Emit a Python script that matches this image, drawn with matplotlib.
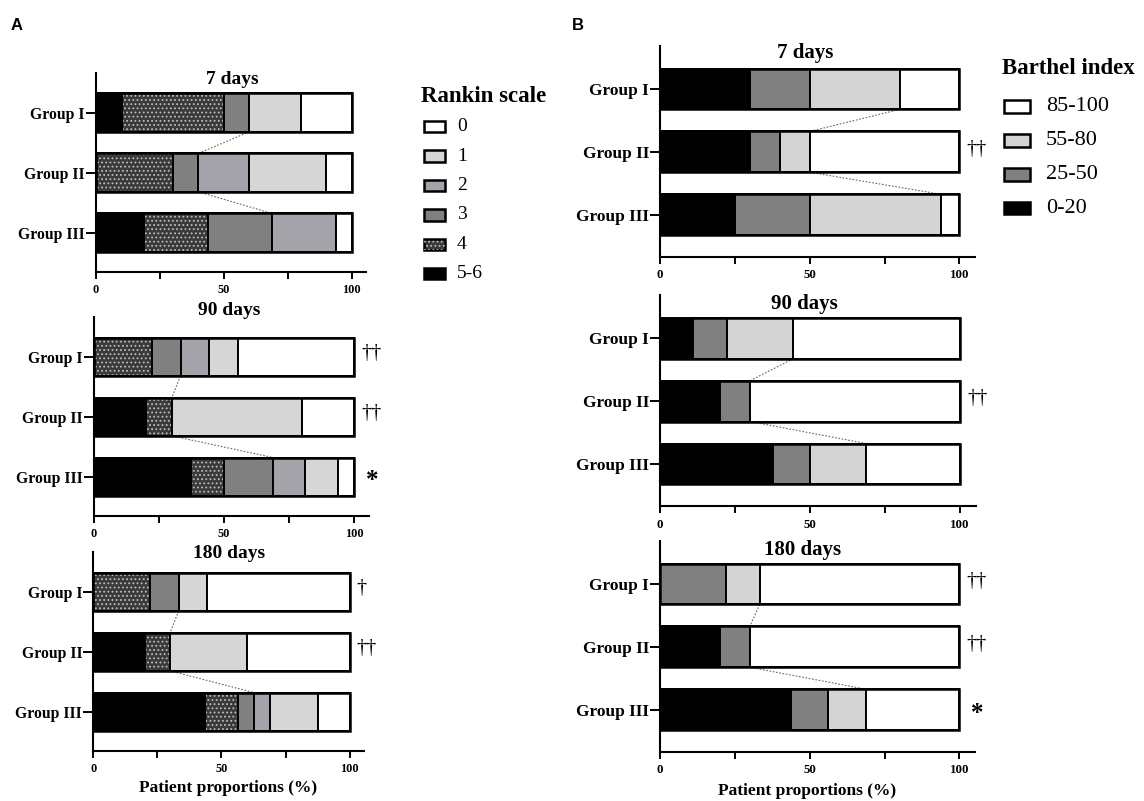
import numpy as np
import matplotlib
matplotlib.use('Agg')
import matplotlib.pyplot as plt
from matplotlib.patches import Rectangle

plt.rcParams['font.family'] = ['Liberation Serif', 'DejaVu Serif']
plt.rcParams['hatch.linewidth'] = 0.8

# ---------------- data ----------------
groups = ['Group I', 'Group II', 'Group III']
timepoints = ['7 days', '90 days', '180 days']

rankin_categories = ['5-6', '4', '3', '2', '1', '0']
rankin_colors = ['#000000', '#3a3a3a', '#808080', '#a3a3a9', '#d6d6d6', '#ffffff']
rankin_hatches = [None, '....', None, None, None, None]
rankin_7d = [[10, 40, 10, 0, 20, 20],
             [0, 30, 10, 20, 30, 10],
             [18.75, 25, 25, 25, 0, 6.25]]
rankin_90d = [[0, 22.2, 11.1, 11.1, 11.1, 44.5],
              [20, 10, 0, 0, 50, 20],
              [37.5, 12.5, 18.75, 12.5, 12.5, 6.25]]
rankin_180d = [[0, 22.2, 11.1, 0, 11.1, 55.6],
               [20, 10, 0, 0, 30, 40],
               [43.75, 12.5, 6.25, 6.25, 18.75, 12.5]]
rankin_marks = [['', '', ''], ['††', '††', '*'], ['†', '††', '']]

barthel_categories = ['0-20', '25-50', '55-80', '85-100']
barthel_colors = ['#000000', '#808080', '#d4d4d4', '#ffffff']
barthel_hatches = [None, None, None, None]
barthel_7d = [[30, 20, 30, 20],
              [30, 10, 10, 50],
              [25, 25, 43.75, 6.25]]
barthel_90d = [[11.1, 11.1, 22.2, 55.6],
               [20, 10, 0, 70],
               [37.5, 12.5, 18.75, 31.25]]
barthel_180d = [[0, 22.2, 11.1, 66.7],
                [20, 10, 0, 70],
                [43.75, 12.5, 12.5, 31.25]]
barthel_marks = [['', '††', ''], ['', '††', ''], ['††', '††', '*']]

x_ticks = [0, 50, 100]
x_minor = [25, 75]

# ---------------- layout ----------------
W, H = 1144, 801
fig = plt.figure(figsize=(W / 100, H / 100), dpi=100)


def px_axes(left, top, width, height):
    return fig.add_axes([left / W, 1 - (top + height) / H, width / W, height / H])


def draw_panel(ax, data, colors, hatches, marks, link_k, bar_h, ylim, xmax,
               label_fs, tick_fs):
    vals = np.array(data, dtype=float)
    cum = np.cumsum(vals, axis=1)
    starts = cum - vals
    y = np.arange(len(groups))
    for j in range(vals.shape[1]):
        if hatches[j]:
            ax.barh(y, vals[:, j], left=starts[:, j], height=bar_h, color=colors[j],
                    edgecolor='#bdbdbd', hatch=hatches[j], linewidth=0, zorder=2)
            ax.barh(y, vals[:, j], left=starts[:, j], height=bar_h, color='none',
                    edgecolor='black', linewidth=1.4, zorder=3)
        else:
            ax.barh(y, vals[:, j], left=starts[:, j], height=bar_h, color=colors[j],
                    edgecolor='black', linewidth=1.4, zorder=3)
    ax.barh(y, cum[:, -1], left=0, height=bar_h, color='none', edgecolor='black',
            linewidth=1.8, zorder=4)
    # connecting dotted lines
    for i in range(len(groups) - 1):
        ax.plot([cum[i, link_k], cum[i + 1, link_k]],
                [y[i] + bar_h / 2, y[i + 1] - bar_h / 2],
                ls=(0, (1.5, 1.5)), color='#666666', lw=0.8, zorder=1)
    for i, m in enumerate(marks):
        if m == '*':
            ax.annotate(m, xy=(cum[i, -1], y[i]), xytext=(8, -3),
                        textcoords='offset points', ha='left', va='center',
                        fontsize=18, fontweight='bold')
        elif m:
            ax.annotate(m, xy=(cum[i, -1], y[i]), xytext=(5, 2),
                        textcoords='offset points', ha='left', va='center',
                        fontsize=14.5)
    ax.set_xlim(0, xmax)
    ax.set_ylim(*ylim)
    ax.set_yticks(y)
    ax.set_yticklabels(groups, fontsize=label_fs, fontweight='bold')
    ax.set_xticks(x_ticks)
    ax.set_xticks(x_minor, minor=True)
    ax.set_xticklabels([str(t) for t in x_ticks], fontsize=tick_fs, fontweight='bold')
    for s in ['top', 'right']:
        ax.spines[s].set_visible(False)
    for s in ['left', 'bottom']:
        ax.spines[s].set_linewidth(1.5)
    ax.tick_params(axis='x', which='both', length=5, width=1.4, pad=4)
    ax.tick_params(axis='y', length=7, width=1.4, pad=1)
    ax.set_facecolor('none')


# Panel A
a_rects = [(96, 73, 269.7), (93.7, 317.1, 275), (93.3, 552.1, 270.5)]
a_titles = [(232, 80), (229, 310), (229, 553)]
for (l, t, w), data, marks, (tx, ty), title in zip(
        a_rects, [rankin_7d, rankin_90d, rankin_180d], rankin_marks, a_titles, timepoints):
    ax = px_axes(l, t, w, 198.6)
    draw_panel(ax, data, rankin_colors, rankin_hatches, marks, 2, 0.64,
               (2.65, -0.66), 105.5, 11.3, 8.8)
    fig.text(tx / W, 1 - ty / H, title, ha='center', va='center', fontsize=14,
             fontweight='bold')

# Panel B
b_rects = [(660, 45.7, 315), (660, 295, 315.6), (660, 540.7, 315)]
b_titles = [(805, 53), (804, 304), (803, 550)]
for (l, t, w), data, marks, (tx, ty), title in zip(
        b_rects, [barthel_7d, barthel_90d, barthel_180d], barthel_marks, b_titles, timepoints):
    ax = px_axes(l, t, w, 211)
    draw_panel(ax, data, barthel_colors, barthel_hatches, marks, 2, 0.65,
               (2.67, -0.69), 105.2, 12.4, 9.3)
    fig.text(tx / W, 1 - ty / H, title, ha='center', va='center', fontsize=15,
             fontweight='bold')

# x labels
fig.text(228 / W, 1 - 788 / H, 'Patient proportions (%)', ha='center', va='center',
         fontsize=12.5, fontweight='bold')
fig.text(807 / W, 1 - 791 / H, 'Patient proportions (%)', ha='center', va='center',
         fontsize=12.5, fontweight='bold')

# panel letters
fig.text(17 / W, 1 - 25 / H, 'A', ha='center', va='center', fontsize=12,
         fontweight='bold', family=['Liberation Sans', 'DejaVu Sans'])
fig.text(578 / W, 1 - 25 / H, 'B', ha='center', va='center', fontsize=12,
         fontweight='bold', family=['Liberation Sans', 'DejaVu Sans'])


# legends (drawn in figure pixel coords)
def legend(title, title_xy, cats, colors, hatches, box_x, box_w, box_h, y0, dy,
           text_x, fs, title_fs):
    fig.text(title_xy[0] / W, 1 - title_xy[1] / H, title, ha='center', va='center',
             fontsize=title_fs, fontweight='bold')
    for k, (c, col, h) in enumerate(zip(cats, colors, hatches)):
        yc = y0 + k * dy
        r = Rectangle((box_x / W, 1 - (yc + box_h / 2) / H), box_w / W, box_h / H,
                      transform=fig.transFigure, facecolor=col, edgecolor='black',
                      linewidth=1.8)
        fig.patches.append(r)
        if h:
            r2 = Rectangle((box_x / W, 1 - (yc + box_h / 2) / H), box_w / W, box_h / H,
                           transform=fig.transFigure, facecolor='none',
                           edgecolor='#bdbdbd', hatch=h, linewidth=0)
            fig.patches.append(r2)
        fig.text(text_x / W, 1 - yc / H, c, ha='left', va='center', fontsize=fs)


legend('Rankin scale', (483.5, 96), rankin_categories[::-1], rankin_colors[::-1],
       rankin_hatches[::-1], 424, 21, 11.5, 126.7, 29.4, 457, 14, 16.5)
legend('Barthel index', (1068, 68.3), barthel_categories[::-1], barthel_colors[::-1],
       barthel_hatches[::-1], 1004, 26, 12.5, 106.7, 33.8, 1046, 16, 16.5)

fig.savefig('out.png', dpi=100)
